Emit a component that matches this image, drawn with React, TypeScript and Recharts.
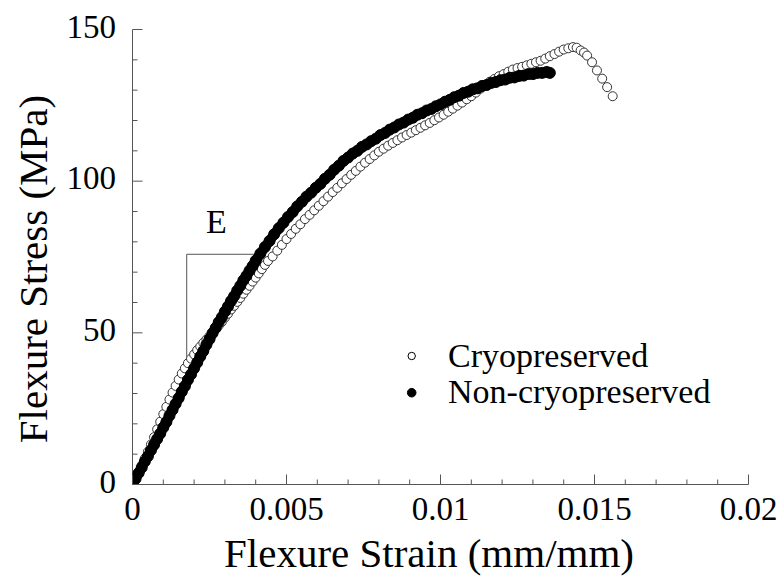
import React from 'react';
import { ScatterChart, Scatter, XAxis, YAxis, Legend, ReferenceLine } from 'recharts';

const FONT = '"Liberation Serif", "Times New Roman", serif';
const AXIS_COLOR = '#555';

// Axis ticks (minor every 0.001 / 10 MPa, labelled majors)
const X_TICKS = [
  0, 0.001, 0.002, 0.003, 0.004, 0.005, 0.006, 0.007, 0.008, 0.009, 0.01,
  0.011, 0.012, 0.013, 0.014, 0.015, 0.016, 0.017, 0.018, 0.019, 0.02,
];
const X_MAJOR = [0, 0.005, 0.01, 0.015, 0.02];
const Y_TICKS = [0, 10, 20, 30, 40, 50, 60, 70, 80, 90, 100, 110, 120, 130, 140, 150];
const Y_MAJOR = [0, 50, 100, 150];

// Modulus construction lines (strain, MPa)
const E_STRAIN_LEFT = 0.00176;
const E_STRAIN_RIGHT = 0.00408;
const E_STRESS_BOTTOM = 42.1;
const E_STRESS_TOP = 75.9;

// Cryopreserved specimen: [strain (mm/mm), stress (MPa)]
const CRYO: [number, number][] = [
  [0, 0], [0.0001, 2.0], [0.0002, 4.2], [0.0003, 6.3], [0.0004, 8.6], [0.0005, 10.8],
  [0.0006, 13.2], [0.0007, 15.6], [0.0008, 18.2], [0.0009, 20.7], [0.001, 23.2],
  [0.0011, 25.6], [0.0012, 28.0], [0.0013, 30.3], [0.0014, 32.5], [0.0015, 34.6],
  [0.0016, 36.6], [0.0017, 38.3], [0.0018, 40.0], [0.0019, 41.5], [0.002, 42.9],
  [0.0021, 44.3], [0.0022, 45.5], [0.0023, 46.7], [0.0024, 47.8], [0.0025, 48.9],
  [0.0026, 50.1], [0.0027, 51.3], [0.0028, 52.4], [0.0029, 53.6], [0.003, 55.0],
  [0.0031, 56.3], [0.0032, 57.7], [0.0033, 58.9], [0.0034, 60.2], [0.0035, 61.5],
  [0.0036, 62.9], [0.0037, 64.2], [0.0038, 65.5], [0.0039, 66.9], [0.004, 68.2],
  [0.0041, 69.6], [0.0042, 71.0], [0.0043, 72.4], [0.0044, 73.7],
  [0.00455, 75.2], [0.0047, 77.1], [0.00485, 79.0], [0.005, 80.9], [0.00515, 82.6],
  [0.0053, 84.3], [0.00545, 85.8], [0.0056, 87.5], [0.00575, 88.9], [0.0059, 90.4],
  [0.00605, 91.9], [0.0062, 93.4], [0.00635, 94.9], [0.0065, 96.4], [0.00665, 97.8],
  [0.0068, 99.3], [0.00695, 100.7], [0.0071, 102.1], [0.00725, 103.4], [0.0074, 104.8],
  [0.00755, 106.1], [0.0077, 107.3], [0.00785, 108.5], [0.008, 109.7], [0.00815, 110.7],
  [0.0083, 111.7], [0.00845, 112.6], [0.0086, 113.5], [0.00875, 114.4], [0.0089, 115.2],
  [0.00905, 116.0], [0.0092, 116.8], [0.00935, 117.6], [0.0095, 118.4], [0.00965, 119.2],
  [0.0098, 120.1], [0.00995, 121.0], [0.0101, 121.9], [0.01025, 122.9], [0.0104, 123.9],
  [0.01055, 124.9], [0.0107, 125.9], [0.01085, 127.0], [0.011, 128.0], [0.01115, 129.2],
  [0.0113, 130.5], [0.01145, 131.7], [0.0116, 132.8], [0.01175, 133.7], [0.0119, 134.6],
  [0.01205, 135.3], [0.0122, 136.1], [0.01235, 136.8], [0.0125, 137.3], [0.01265, 137.7],
  [0.0128, 138.2], [0.01295, 138.7], [0.0131, 139.2], [0.01325, 139.7], [0.0134, 140.4],
  [0.01355, 141.2], [0.0137, 141.9], [0.01385, 142.7], [0.014, 143.4], [0.01415, 143.8],
  [0.0143, 144.2], [0.01442, 144.0], [0.01455, 143.1], [0.01466, 142.4], [0.01476, 141.4],
  [0.01492, 139.2], [0.01508, 136.5], [0.01525, 133.8], [0.01541, 131.0], [0.01559, 128.0],
];

// Non-cryopreserved specimen: [strain (mm/mm), stress (MPa)]
const NON_CRYO: [number, number][] = [
  [0, 0], [0.0001, 1.9], [0.0002, 3.8], [0.0003, 5.6], [0.0004, 7.6], [0.0005, 9.3],
  [0.0006, 11.3], [0.0007, 13.1], [0.0008, 15.0], [0.0009, 16.8], [0.001, 18.8],
  [0.0011, 20.6], [0.0012, 22.7], [0.0013, 24.6], [0.0014, 26.6], [0.0015, 28.5],
  [0.0016, 30.6], [0.0017, 32.4], [0.0018, 34.5], [0.0019, 36.3], [0.002, 38.3],
  [0.0021, 40.2], [0.0022, 42.2], [0.0023, 44.0], [0.0024, 46.1], [0.0025, 47.9],
  [0.0026, 49.9], [0.0027, 51.6], [0.0028, 53.5], [0.0029, 55.1], [0.003, 57.0],
  [0.0031, 58.7], [0.0032, 60.5], [0.0033, 62.1], [0.0034, 63.9], [0.0035, 65.5],
  [0.0036, 67.3], [0.0037, 68.8], [0.0038, 70.5], [0.0039, 72.0], [0.004, 73.8],
  [0.00415, 76.1], [0.0043, 78.3], [0.00445, 80.3], [0.0046, 82.5], [0.00475, 84.5],
  [0.0049, 86.3], [0.00505, 88.2], [0.0052, 89.8], [0.00535, 91.7], [0.0055, 93.2],
  [0.00565, 94.9], [0.0058, 96.2], [0.00595, 97.8], [0.0061, 99.1], [0.00625, 100.8],
  [0.0064, 102.1], [0.00655, 103.8], [0.0067, 105.1], [0.00685, 106.7], [0.007, 107.8],
  [0.00715, 109.1], [0.0073, 110.0], [0.00745, 111.3], [0.0076, 112.1], [0.00775, 113.2],
  [0.0079, 114.0], [0.00805, 115.2], [0.0082, 115.9], [0.00835, 117.0], [0.0085, 117.7],
  [0.00865, 118.7], [0.0088, 119.3], [0.00895, 120.3], [0.0091, 120.9], [0.00925, 121.9],
  [0.0094, 122.4], [0.00955, 123.3], [0.0097, 123.8], [0.00985, 124.7], [0.01, 125.3],
  [0.01015, 126.2], [0.0103, 126.8], [0.01045, 127.7], [0.0106, 128.2], [0.01075, 129.1],
  [0.0109, 129.5], [0.01105, 130.3], [0.0112, 130.6], [0.01135, 131.4], [0.0115, 131.7],
  [0.01165, 132.4], [0.0118, 132.7], [0.01195, 133.3], [0.0121, 133.5], [0.01225, 134.1],
  [0.0124, 134.2], [0.01255, 134.7], [0.0127, 134.8], [0.01285, 135.3], [0.013, 135.3],
  [0.01315, 135.7], [0.0133, 135.7], [0.01345, 136.0], [0.01355, 135.7],
];

const SERIES_NAMES = ['Cryopreserved', 'Non-cryopreserved'];

const toPoints = (pairs: [number, number][]) => pairs.map(([x, y]) => ({ x, y }));
const cryoPoints = toPoints(CRYO);
const nonCryoPoints = toPoints(NON_CRYO);

const renderRing = (p: any) => (
  <circle cx={p.cx} cy={p.cy} r={4.5} fill="#fff" stroke="#333" strokeWidth={1} />
);
const renderDot = (p: any) => (
  <circle cx={p.cx} cy={p.cy} r={5.5} fill="#000" stroke="#000" strokeWidth={1} />
);

const XTick = (props: any) => {
  const { x, y, payload } = props;
  const major = X_MAJOR.includes(payload.value);
  return (
    <g>
      <line x1={x} x2={x} y1={y} y2={y - (major ? 10 : 5)} stroke={AXIS_COLOR} strokeWidth={1} />
      {major && (
        <text x={x} y={y + 35.5} textAnchor="middle" fontSize={33} fontFamily={FONT} fill="#000">
          {String(payload.value)}
        </text>
      )}
    </g>
  );
};

const YTick = (props: any) => {
  const { x, y, payload } = props;
  const major = Y_MAJOR.includes(payload.value);
  return (
    <g>
      <line x1={x} x2={x + (major ? 10 : 5)} y1={y} y2={y} stroke={AXIS_COLOR} strokeWidth={1} />
      {major && (
        <text x={x - 16.5} y={y + 8} textAnchor="end" fontSize={33} fontFamily={FONT} fill="#000">
          {String(payload.value)}
        </text>
      )}
    </g>
  );
};

const XTitle = (props: any) => {
  const vb = props.viewBox;
  return (
    <text x={vb.x + vb.width / 2 - 11.5} y={vb.y + 82.5} textAnchor="middle" fontSize={41} fontFamily={FONT} fill="#000">
      Flexure Strain (mm/mm)
    </text>
  );
};

const YTitle = (props: any) => {
  const vb = props.viewBox;
  const cx = vb.x + 47;
  const cy = vb.y + vb.height / 2 + 12;
  return (
    <text transform={`translate(${cx}, ${cy}) rotate(-90)`} textAnchor="middle" fontSize={41} fontFamily={FONT} fill="#000">
      Flexure Stress (MPa)
    </text>
  );
};

const renderLegend = (props: any) => {
  const payload = props.payload || [];
  return (
    <svg width={360} height={90} style={{ display: 'block' }}>
      {payload.map((entry: any, i: number) => {
        const open = entry.value === SERIES_NAMES[0];
        const cy = 26 + i * 36.7;
        return (
          <g key={entry.value}>
            <circle cx={11.7} cy={cy} r={open ? 3.7 : 4.3} fill={open ? '#fff' : '#000'} stroke="#000" strokeWidth={1} />
            <text x={48} y={cy + 10.7} fontSize={34} fontFamily={FONT} fill="#000">
              {entry.value}
            </text>
          </g>
        );
      })}
    </svg>
  );
};

export default function App() {
  return (
    <div style={{ position: 'absolute', left: 0, top: 0, width: 782, height: 580, background: '#fff', fontFamily: FONT }}>
      <ScatterChart width={782} height={580} margin={{ top: 29.5, right: 33.5, bottom: 0, left: 0 }}>
        <XAxis
          type="number"
          dataKey="x"
          domain={[0, 0.02]}
          ticks={X_TICKS}
          interval={0}
          tickSize={0}
          tickMargin={0}
          tickLine={false}
          axisLine={{ stroke: AXIS_COLOR, strokeWidth: 1 }}
          tick={<XTick />}
          height={95.5}
          allowDataOverflow
          label={XTitle}
        />
        <YAxis
          type="number"
          dataKey="y"
          domain={[0, 150]}
          ticks={Y_TICKS}
          interval={0}
          tickSize={0}
          tickMargin={0}
          tickLine={false}
          axisLine={{ stroke: AXIS_COLOR, strokeWidth: 1 }}
          tick={<YTick />}
          width={132.5}
          allowDataOverflow
          label={YTitle}
        />
        <ReferenceLine
          segment={[{ x: E_STRAIN_LEFT, y: E_STRESS_BOTTOM }, { x: E_STRAIN_LEFT, y: E_STRESS_TOP }]}
          stroke={AXIS_COLOR}
          strokeWidth={1}
          ifOverflow="visible"
        />
        <ReferenceLine
          segment={[{ x: E_STRAIN_LEFT, y: E_STRESS_TOP }, { x: E_STRAIN_RIGHT, y: E_STRESS_TOP }]}
          stroke={AXIS_COLOR}
          strokeWidth={1}
          ifOverflow="visible"
          label={{ value: 'E', position: 'top', offset: 21, dx: -6, fontSize: 34, fontFamily: FONT, fill: '#000' }}
        />
        <Scatter
          name={SERIES_NAMES[0]}
          data={cryoPoints}
          fill="#fff"
          stroke="#333"
          shape={renderRing}
          isAnimationActive={false}
        />
        <Scatter
          name={SERIES_NAMES[1]}
          data={nonCryoPoints}
          fill="#000"
          shape={renderDot}
          line={{ stroke: '#000', strokeWidth: 10, strokeLinejoin: 'round', strokeLinecap: 'round' }}
          lineType="joint"
          isAnimationActive={false}
        />
        <Legend
          layout="vertical"
          align="center"
          verticalAlign="middle"
          wrapperStyle={{ left: 400, top: 330, width: 360 }}
          content={renderLegend}
        />
      </ScatterChart>
    </div>
  );
}
